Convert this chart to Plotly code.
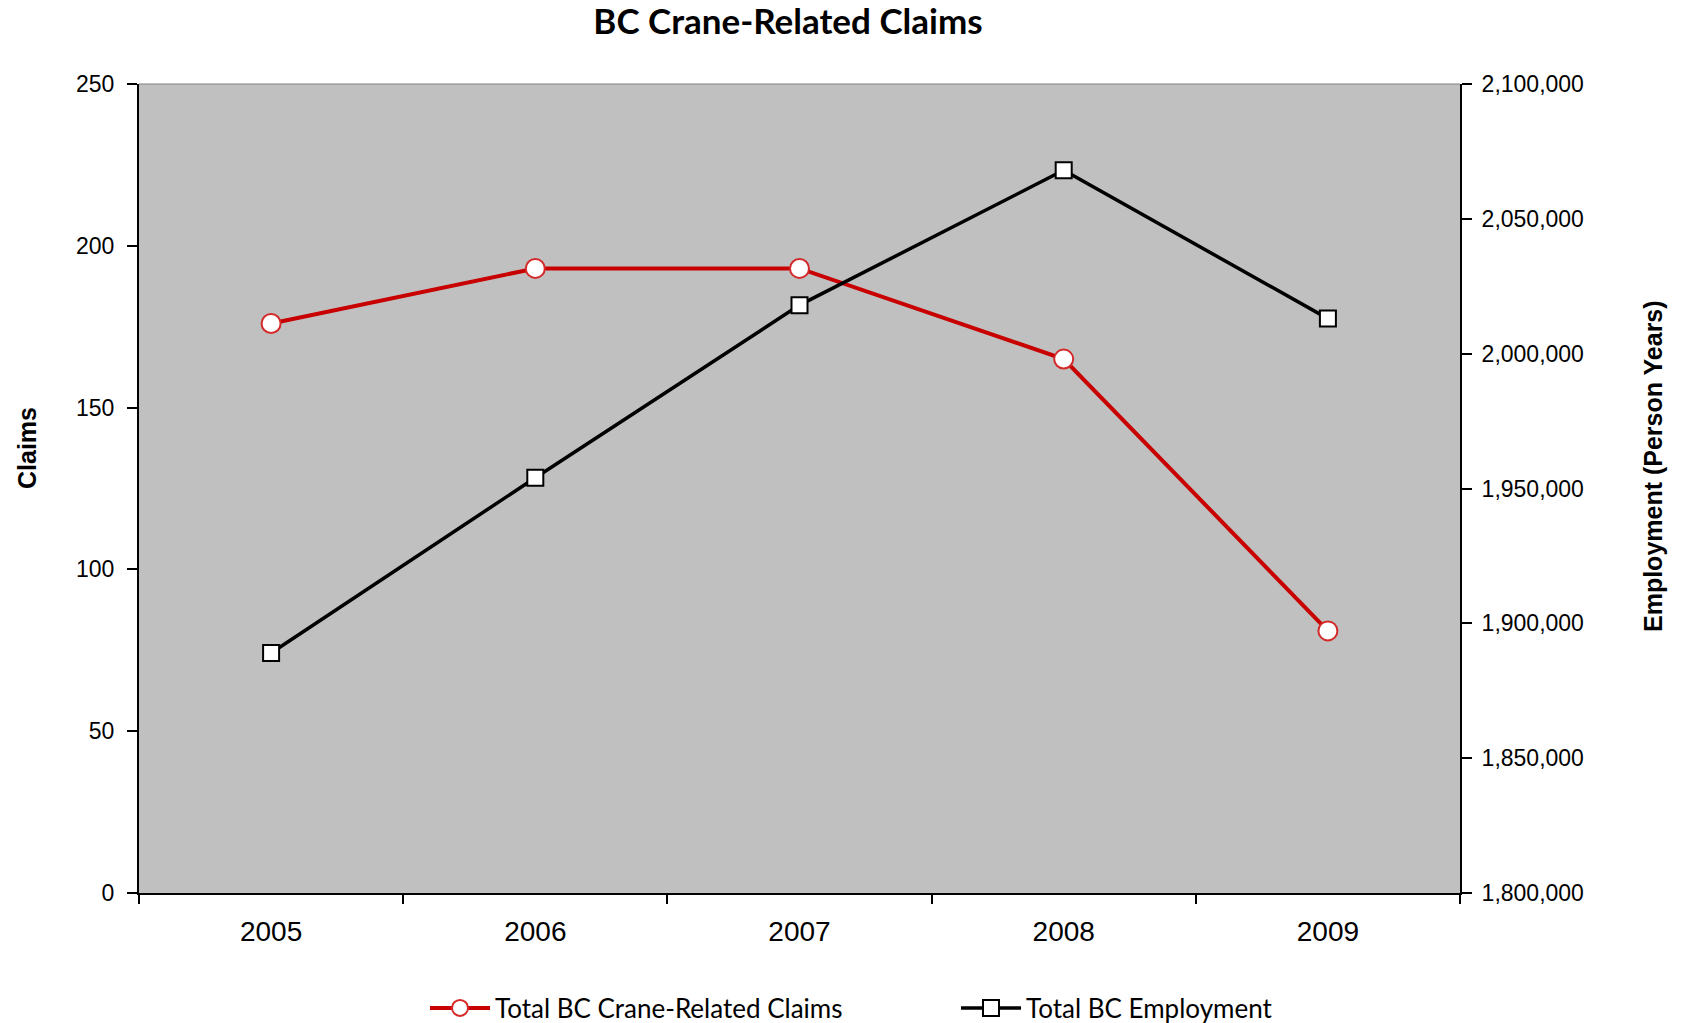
import plotly.graph_objects as go

years = ["2005", "2006", "2007", "2008", "2009"]
claims = [176, 193, 193, 165, 81]
employment = [1889000, 1954000, 2018000, 2068000, 2013000]

claims_name = "Total BC Crane-Related Claims"
emp_name = "Total BC Employment"

W, H = 1681, 1023
# plot area in page pixels: x 139..1460, y 84..893
L, R, T, B = 139, 1681 - 1460, 84, 1023 - 893
PW, PH = W - L - R, H - T - B


def px_x(px):
    return (px - L) / PW


def px_y(py):
    return (H - B - py) / PH


fig = go.Figure()
fig.add_trace(go.Scatter(
    x=years, y=claims, name=claims_name, mode="lines+markers",
    line=dict(color="#C80000", width=4),
    marker=dict(symbol="circle", size=19, color="white",
                line=dict(color="#D42A2A", width=2)),
    legend="legend", yaxis="y", showlegend=True,
))
fig.add_trace(go.Scatter(
    x=years, y=employment, name=emp_name, mode="lines+markers",
    line=dict(color="black", width=3.5),
    marker=dict(symbol="square", size=16, color="white",
                line=dict(color="black", width=2)),
    legend="legend2", yaxis="y2", showlegend=True,
))

tickfont = dict(family="Liberation Sans, Arial", size=23, color="black")
legfont = dict(family="Lato", size=26, color="black")

fig.update_layout(
    width=W, height=H,
    margin=dict(l=L, r=R, t=T, b=B, autoexpand=False),
    paper_bgcolor="white",
    plot_bgcolor="#C0C0C0",
    title=dict(text="<b>BC Crane-Related Claims</b>",
               font=dict(family="Lato", size=35, color="black"),
               x=788 / W, xanchor="center", xref="container",
               y=1 - 22 / H, yanchor="middle", yref="container"),
    xaxis=dict(
        type="category", range=[-0.5, 4.5],
        showline=True, linecolor="black", linewidth=2,
        ticks="outside", ticklen=9, tickwidth=2, tickcolor="black",
        tickson="boundaries", ticklabelstandoff=12,
        tickfont=dict(family="Liberation Sans, Arial", size=28, color="black"),
        showgrid=False, zeroline=False,
    ),
    yaxis=dict(
        range=[0, 250], dtick=50, tick0=0,
        showline=True, linecolor="black", linewidth=2,
        ticks="outside", ticklen=10, tickwidth=2, tickcolor="black",
        ticklabelstandoff=8,
        tickfont=tickfont, showgrid=False, zeroline=False,
    ),
    yaxis2=dict(
        range=[1800000, 2100000], dtick=50000, tick0=1800000,
        overlaying="y", side="right", tickformat=",d",
        showline=True, linecolor="black", linewidth=2,
        ticks="outside", ticklen=10, tickwidth=2, tickcolor="black",
        ticklabelstandoff=5,
        tickfont=tickfont, showgrid=False, zeroline=False,
    ),
    legend=dict(
        orientation="h", x=px_x(425), xanchor="left",
        y=px_y(1008), yanchor="middle",
        font=legfont, bgcolor="rgba(0,0,0,0)", itemwidth=60,
    ),
    legend2=dict(
        orientation="h", x=px_x(956), xanchor="left",
        y=px_y(1008), yanchor="middle",
        font=legfont, bgcolor="rgba(0,0,0,0)", itemwidth=60,
    ),
    annotations=[
        dict(text="<b>Claims</b>", textangle=-90, showarrow=False,
             xref="paper", yref="paper", x=px_x(27), y=px_y(448),
             xanchor="center", yanchor="middle",
             font=dict(family="Liberation Sans, Arial", size=25, color="black")),
        dict(text="<b>Employment (Person Years)</b>", textangle=-90, showarrow=False,
             xref="paper", yref="paper", x=px_x(1653), y=px_y(466),
             xanchor="center", yanchor="middle",
             font=dict(family="Liberation Sans, Arial", size=25, color="black")),
    ],
    shapes=[dict(type="line", xref="paper", yref="paper", x0=0, x1=1, y0=1, y1=1,
                 line=dict(color="#808080", width=1))],
)

fig.write_html(
    "out.html",
    config={"displayModeBar": False},
    post_script="document.body.style.margin='0';document.body.style.overflow='hidden';",
)
